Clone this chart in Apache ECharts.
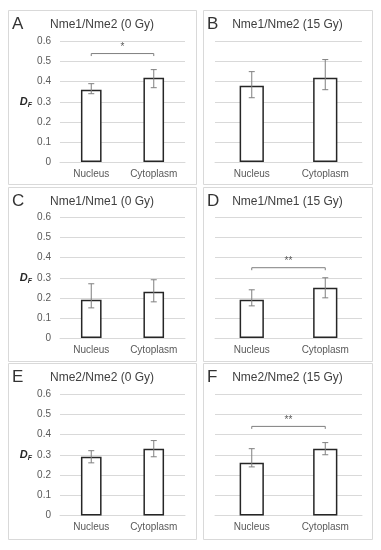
<!DOCTYPE html>
<html><head><meta charset="utf-8">
<script src="https://cdn.jsdelivr.net/npm/echarts@6/dist/echarts.min.js"></script>
<style>html,body{margin:0;padding:0;background:#fff}#c{width:381px;height:550px}</style>
</head><body><div id="c"></div><script>
// ---- data ----
const categories = ['Nucleus', 'Cytoplasm'];
const panelLetters = ['A', 'B', 'C', 'D', 'E', 'F'];
const panelTitles = ['Nme1/Nme2 (0 Gy)', 'Nme1/Nme2 (15 Gy)', 'Nme1/Nme1 (0 Gy)', 'Nme1/Nme1 (15 Gy)', 'Nme2/Nme2 (0 Gy)', 'Nme2/Nme2 (15 Gy)'];
const yTicks = [0, 0.1, 0.2, 0.3, 0.4, 0.5, 0.6];
const meanA = [0.36, 0.42], lowA = [0.34, 0.37], highA = [0.39, 0.46];
const meanB = [0.38, 0.42], lowB = [0.32, 0.36], highB = [0.45, 0.51];
const meanC = [0.19, 0.23], lowC = [0.15, 0.18], highC = [0.27, 0.29];
const meanD = [0.19, 0.25], lowD = [0.16, 0.20], highD = [0.24, 0.30];
const meanE = [0.29, 0.33], lowE = [0.26, 0.29], highE = [0.32, 0.37];
const meanF = [0.26, 0.33], lowF = [0.24, 0.30], highF = [0.33, 0.36];
const sigLevel = [0.54, null, null, 0.35, null, 0.44];
const sigMark = ['*', '', '', '**', '', '**'];

const means = [meanA, meanB, meanC, meanD, meanE, meanF];
const lows = [lowA, lowB, lowC, lowD, lowE, lowF];
const highs = [highA, highB, highC, highD, highE, highF];

// ---- layout ----
const FONT = '"Liberation Sans", Arial, sans-serif';
const colBox = [[8, 196], [203, 372]];
const rowBox = [[10, 184], [187, 361], [363, 539]];
const gridCol = [{ left: 60, width: 125 }, { left: 215, width: 147 }];
const gridRow = [{ top: 41.5, height: 120.5 }, { top: 217.5, height: 120.5 }, { top: 394, height: 121.5 }];

const grids = [], xAxes = [], yAxes = [], series = [], graphics = [];
for (let i = 0; i < 6; i++) {
  const r = Math.floor(i / 2), c = i % 2;
  grids.push({ left: gridCol[c].left, width: gridCol[c].width, top: gridRow[r].top, height: gridRow[r].height });
  xAxes.push({
    type: 'category', gridIndex: i, data: categories,
    axisLine: { show: true, lineStyle: { color: '#d9d9d9', width: 1 } },
    axisTick: { show: false },
    axisLabel: { color: '#595959', fontSize: 10, fontFamily: FONT, margin: 7 }
  });
  yAxes.push({
    type: 'value', gridIndex: i, min: yTicks[0], max: yTicks[yTicks.length - 1], interval: 0.1,
    axisLine: { show: false }, axisTick: { show: false },
    splitLine: { lineStyle: { color: '#d9d9d9', width: 1 } },
    axisLabel: {
      show: c === 0, color: '#595959', fontSize: 10, fontFamily: FONT, margin: 9,
      formatter: v => (Math.abs(v) < 1e-9 ? '0' : v.toFixed(1))
    },
    name: c === 0 ? '{d|D}{f|F}' : '',
    nameLocation: 'middle', nameRotate: 0, nameGap: 28,
    nameTextStyle: {
      rich: {
        d: { fontStyle: 'italic', fontWeight: 'bold', fontSize: 11, color: '#262626', fontFamily: FONT, lineHeight: 14 },
        f: { fontStyle: 'italic', fontWeight: 'bold', fontSize: 7, color: '#262626', fontFamily: FONT, verticalAlign: 'bottom', lineHeight: 14, padding: [5, 0, 0, 0] }
      }
    }
  });
  series.push({
    type: 'bar', xAxisIndex: i, yAxisIndex: i, data: means[i], barWidth: '33%',
    itemStyle: { color: '#ffffff', borderColor: '#262626', borderWidth: 1.5 },
    silent: true, animation: false
  });
  series.push({
    type: 'custom', xAxisIndex: i, yAxisIndex: i, z: 5, animation: false, silent: true,
    data: categories.map((_, k) => [k, lows[i][k], highs[i][k]]),
    encode: { x: 0, y: [1, 2] },
    renderItem: (params, api) => {
      const x = api.value(0);
      const pH = api.coord([x, api.value(2)]);
      const pL = api.coord([x, api.value(1)]);
      const cw = 3;
      const st = { stroke: '#7f7f7f', lineWidth: 1 };
      return {
        type: 'group', children: [
          { type: 'line', shape: { x1: pH[0], y1: pH[1], x2: pL[0], y2: pL[1] }, style: st },
          { type: 'line', shape: { x1: pH[0] - cw, y1: pH[1], x2: pH[0] + cw, y2: pH[1] }, style: st },
          { type: 'line', shape: { x1: pL[0] - cw, y1: pL[1], x2: pL[0] + cw, y2: pL[1] }, style: st }
        ]
      };
    }
  });
  if (sigLevel[i] !== null) {
    const mark = sigMark[i];
    series.push({
      type: 'custom', xAxisIndex: i, yAxisIndex: i, z: 5, animation: false, silent: true,
      data: [[0, sigLevel[i], 1]],
      encode: { x: [0, 2], y: 1 },
      renderItem: (params, api) => {
        const a = api.coord([api.value(0), api.value(1)]);
        const b = api.coord([api.value(2), api.value(1)]);
        const st = { stroke: '#7f7f7f', lineWidth: 1 };
        return {
          type: 'group', children: [
            { type: 'line', shape: { x1: a[0], y1: a[1], x2: b[0], y2: b[1] }, style: st },
            { type: 'line', shape: { x1: a[0], y1: a[1], x2: a[0], y2: a[1] + 2.5 }, style: st },
            { type: 'line', shape: { x1: b[0], y1: b[1], x2: b[0], y2: b[1] + 2.5 }, style: st },
            { type: 'text', x: (a[0] + b[0]) / 2, y: a[1] - 1, style: { text: mark, fill: '#595959', font: '10px ' + FONT, textAlign: 'center', textVerticalAlign: 'bottom' } }
          ]
        };
      }
    });
  }
  const bx = colBox[c], by = rowBox[r];
  graphics.push({ type: 'rect', silent: true, z: 0, shape: { x: bx[0] + 0.5, y: by[0] + 0.5, width: bx[1] - bx[0], height: by[1] - by[0] }, style: { fill: 'none', stroke: '#d9d9d9', lineWidth: 1 } });
  graphics.push({ type: 'text', silent: true, x: bx[0] + 4, y: by[0] + 14, style: { text: panelLetters[i], fill: '#333333', font: '17px ' + FONT, textAlign: 'left', textVerticalAlign: 'middle' } });
  graphics.push({ type: 'text', silent: true, x: (bx[0] + bx[1]) / 2, y: by[0] + 15, style: { text: panelTitles[i], fill: '#404040', font: '12px ' + FONT, textAlign: 'center', textVerticalAlign: 'middle' } });
}

const chart = echarts.init(document.getElementById('c'), null, { renderer: 'canvas' });
chart.setOption({
  animation: false, backgroundColor: '#ffffff',
  grid: grids, xAxis: xAxes, yAxis: yAxes, series: series, graphic: graphics
});
</script></body></html>
